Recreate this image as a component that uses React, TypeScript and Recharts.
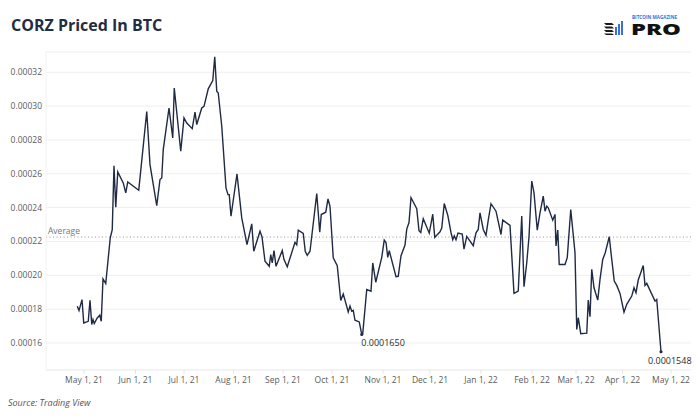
import { LineChart, Line, XAxis, YAxis, CartesianGrid, ReferenceLine, ReferenceDot } from "recharts";

// x = trading session index (about 20 per month), y = CORZ price in BTC
const sessions = [
  12.5, 13.2, 14.4, 15.1, 16.9, 17.6, 18.3, 18.8, 19.3, 20.5, 21.5, 22.1, 22.8, 23.9, 25.7, 26.5, 27.2, 27.9, 28.7, 30.9,
  31.9, 32.7, 37.1, 40.3, 41.6, 44.3, 45.6, 46.3, 46.9, 49.2, 50.7, 51.3, 53.9, 55.2, 56.3, 58.5, 59.6, 60.3, 62.3, 63.2,
  64.9, 66.7, 67.5, 68.3, 68.9, 70.3, 72.0, 72.8, 73.3, 74.0, 76.4, 78.3, 80.4, 82.3, 83.1, 85.6, 86.4, 87.6, 89.3, 89.9,
  90.5, 91.2, 92.0, 94.5, 95.2, 96.5, 99.6, 100.3, 100.9, 102.9, 103.7, 104.5, 105.6, 108.3, 109.5, 110.1, 111.9, 112.8, 113.6, 114.9,
  116.5, 117.9, 118.9, 120.9, 121.6, 122.3, 122.9, 123.6, 125.3, 126.3, 126.7, 128.3, 130.0, 130.7, 131.9, 134.3, 135.3, 136.0, 136.7, 137.3,
  140.0, 140.9, 142.0, 143.6, 144.3, 145.2, 146.0, 146.7, 148.3, 149.2, 149.9, 150.9, 153.3, 154.7, 155.5, 157.6, 158.3, 159.3, 160.7, 162.0,
  162.7, 163.3, 164.0, 164.8, 166.5, 167.2, 168.3, 170.9, 172.0, 172.9, 173.6, 174.9, 176.0, 176.9, 178.0, 180.0, 182.0, 182.7, 185.6, 187.2,
  188.9, 190.3, 191.2, 192.3, 193.2, 194.3, 195.2, 196.5, 197.6, 198.9, 199.6, 200.3, 200.9, 202.7, 203.6, 204.0, 204.7, 205.3, 207.6, 208.5,
  209.9, 211.6, 212.3, 212.9, 213.9, 216.3, 216.9, 217.6, 218.3, 219.2, 220.7, 221.6, 222.7, 223.7, 225.3, 226.3, 227.3, 228.3, 229.6, 231.2,
  232.3, 234.3, 235.2, 236.0, 236.9, 238.9, 239.6, 240.3, 243.6, 244.3, 246.0,
];

const prices = [
  0.0001817, 0.0001791, 0.0001856, 0.0001718, 0.0001728, 0.0001852, 0.0001709, 0.0001738, 0.0001715, 0.0001748,
  0.0001764, 0.0001728, 0.0001979, 0.0001951, 0.0002221, 0.000227, 0.0002648, 0.0002402, 0.0002611, 0.0002546,
  0.0002487, 0.0002552, 0.0002503, 0.0002968, 0.0002654, 0.0002412, 0.0002566, 0.0002575, 0.0002743, 0.0002989,
  0.0002812, 0.0003107, 0.0002733, 0.000293, 0.00029, 0.0002867, 0.0002964, 0.0002891, 0.0002989, 0.0002999,
  0.0003102, 0.0003151, 0.0003291, 0.0003088, 0.0003078, 0.0002881, 0.0002516, 0.0002477, 0.0002477, 0.0002349,
  0.0002599, 0.0002339, 0.0002181, 0.0002304, 0.0002142, 0.000226, 0.0002227, 0.0002083, 0.0002053, 0.0002122,
  0.0002073, 0.0002146, 0.0002053, 0.0002146, 0.0002093, 0.000205, 0.0002195, 0.000218, 0.0002266, 0.0002247,
  0.0002142, 0.0002118, 0.0002142, 0.0002483, 0.0002254, 0.0002359, 0.0002373, 0.0002451, 0.0002408, 0.0002103,
  0.0002057, 0.0001851, 0.000189, 0.0001783, 0.0001818, 0.0001787, 0.0001792, 0.0001734, 0.0001724, 0.000165,
  0.0001655, 0.0001916, 0.0001906, 0.0002073, 0.0001959, 0.0002106, 0.0002208, 0.0002194, 0.0002106, 0.0002145,
  0.0001992, 0.0001994, 0.0002116, 0.0002179, 0.0002273, 0.0002312, 0.0002459, 0.0002439, 0.0002394, 0.0002263,
  0.0002253, 0.0002335, 0.0002249, 0.0002361, 0.0002224, 0.0002257, 0.0002279, 0.0002424, 0.0002355, 0.0002253,
  0.000221, 0.0002233, 0.000221, 0.0002249, 0.0002243, 0.0002155, 0.000223, 0.0002175, 0.0002251, 0.0002271,
  0.0002369, 0.0002271, 0.0002236, 0.0002326, 0.0002423, 0.0002379, 0.0002241, 0.0002326, 0.0002295, 0.0001893,
  0.0001907, 0.000235, 0.0001932, 0.0002074, 0.0002228, 0.0002557, 0.0002488, 0.0002267, 0.0002369, 0.0002468,
  0.0002379, 0.0002409, 0.0002399, 0.0002326, 0.000236, 0.0002173, 0.0002267, 0.0002064, 0.0002064, 0.0002104,
  0.0002389, 0.0002133, 0.000168, 0.0001749, 0.0001655, 0.0001658, 0.0001853, 0.0001755, 0.0002035, 0.0001926,
  0.0001853, 0.0001976, 0.0002094, 0.0002133, 0.0002228, 0.0002094, 0.0001966, 0.000194, 0.0001893, 0.0001782,
  0.0001828, 0.0001877, 0.0001926, 0.0001897, 0.0001972, 0.0002058, 0.000194, 0.0001952, 0.0001847, 0.0001857,
  0.0001548,
];

const tickSessions = [15.2, 35.8, 55.2, 75, 94.8, 114.4, 134.8, 153.6, 174, 194.4, 212, 230.6, 250];
const tickLabels = [
  "May 1, 21", "Jun 1, 21", "Jul 1, 21", "Aug 1, 21", "Sep 1, 21", "Oct 1, 21", "Nov 1, 21",
  "Dec 1, 21", "Jan 1, 22", "Feb 1, 22", "Mar 1, 22", "Apr 1, 22", "May 1, 22",
];
const priceTicks = [0.00016, 0.00018, 0.0002, 0.00022, 0.00024, 0.00026, 0.00028, 0.0003, 0.00032];
const averagePrice = 0.0002226;
const octLowIndex = 89;
const lastIndex = prices.length - 1;

const data = sessions.map((session, i) => ({ session, price: prices[i] }));

const axisText = { fill: "#5b5b5b", fontSize: 8.5, fontFamily: "Open Sans" };
const navy = "#1f2a44";

const pointLabel = (text: string, dx: number) => (props: any) => {
  const vb = props.viewBox;
  const cx = vb.x + vb.width / 2;
  const cy = vb.y + vb.height / 2;
  return (
    <text x={cx + dx} y={cy + 12} fill="#2b2b2b" fontSize={9} fontFamily="Open Sans">
      {text}
    </text>
  );
};

const averageLabel = (props: any) => {
  const vb = props.viewBox;
  return (
    <text x={vb.x + 2} y={vb.y - 3} fill="#757575" fontSize={8.5} fontFamily="Open Sans">
      Average
    </text>
  );
};

const Logo = () => (
  <g>
    <polygon points="604,23 612,23 614,25 606,25" fill="#1a1a1a" />
    <polygon points="604,26.5 612,26.5 614,28.5 606,28.5" fill="#1a1a1a" />
    <polygon points="604,30 612,30 614,32 606,32" fill="#1a1a1a" />
    <polygon points="604,33.5 612,33.5 614,35 606,35" fill="#1a1a1a" />
    <rect x={615} y={27} width={2} height={8} fill="#3b6fd8" />
    <rect x={618} y={24} width={2} height={11} fill="#3b6fd8" />
    <rect x={621} y={21} width={2} height={14} fill="#3b6fd8" />
    <text x={632} y={18.5} fontSize={4.6} fontWeight={700} fontFamily="Open Sans" fill="#3b6fd8" textLength={45} lengthAdjust="spacingAndGlyphs">
      BITCOIN MAGAZINE
    </text>
    <text x={631} y={35} fontSize={15} fontWeight={800} fontFamily="Open Sans" fill="#111" textLength={50} lengthAdjust="spacingAndGlyphs">
      PRO
    </text>
  </g>
);

export default function App() {
  return (
    <div style={{ position: "absolute", left: 0, top: 0, width: 700, height: 420, background: "#fff" }}>
      <LineChart width={700} height={420} data={data} margin={{ top: 52, right: 9, left: 0, bottom: 20 }}>
        <CartesianGrid vertical={false} stroke="#efefef" />
        <XAxis
          type="number"
          dataKey="session"
          domain={[0, 258]}
          ticks={tickSessions}
          interval={0}
          allowDataOverflow
          tickFormatter={(v: number) => tickLabels[tickSessions.indexOf(v)]}
          tick={axisText}
          height={30}
          axisLine={{ stroke: "#f0f0f0" }}
          tickLine={{ stroke: "#e6e6e6" }}
          tickSize={4}
          tickMargin={3}
        />
        <YAxis
          domain={[0.000144, 0.000332]}
          ticks={priceTicks}
          allowDataOverflow
          tickFormatter={(v: number) => v.toFixed(5)}
          tick={axisText}
          width={46}
          axisLine={{ stroke: "#f2f2f2" }}
          tickLine={false}
          tickSize={2}
          tickMargin={2}
        />
        <ReferenceLine y={averagePrice} stroke="#9a9a9a" strokeDasharray="1 2.5" label={averageLabel} />
        <Line
          type="linear"
          dataKey="price"
          stroke={navy}
          strokeWidth={1.4}
          dot={false}
          isAnimationActive={false}
        />
        <ReferenceDot
          x={sessions[octLowIndex]}
          y={prices[octLowIndex]}
          r={1.6}
          fill={navy}
          stroke="none"
          label={pointLabel(prices[octLowIndex].toFixed(7), -0.5)}
        />
        <ReferenceDot
          x={sessions[lastIndex]}
          y={prices[lastIndex]}
          r={1.6}
          fill={navy}
          stroke="none"
          label={pointLabel(prices[lastIndex].toFixed(7), -13)}
        />
      </LineChart>
      <svg width={700} height={420} style={{ position: "absolute", left: 0, top: 0, pointerEvents: "none" }}>
        <text x={11} y={31} fontFamily="Open Sans" fontWeight={700} fontSize={16} fill="#232d42">
          CORZ Priced In BTC
        </text>
        <text x={8} y={406} fontFamily="Open Sans" fontStyle="italic" fontSize={9} fill="#555">
          Source: Trading View
        </text>
        <Logo />
      </svg>
    </div>
  );
}
